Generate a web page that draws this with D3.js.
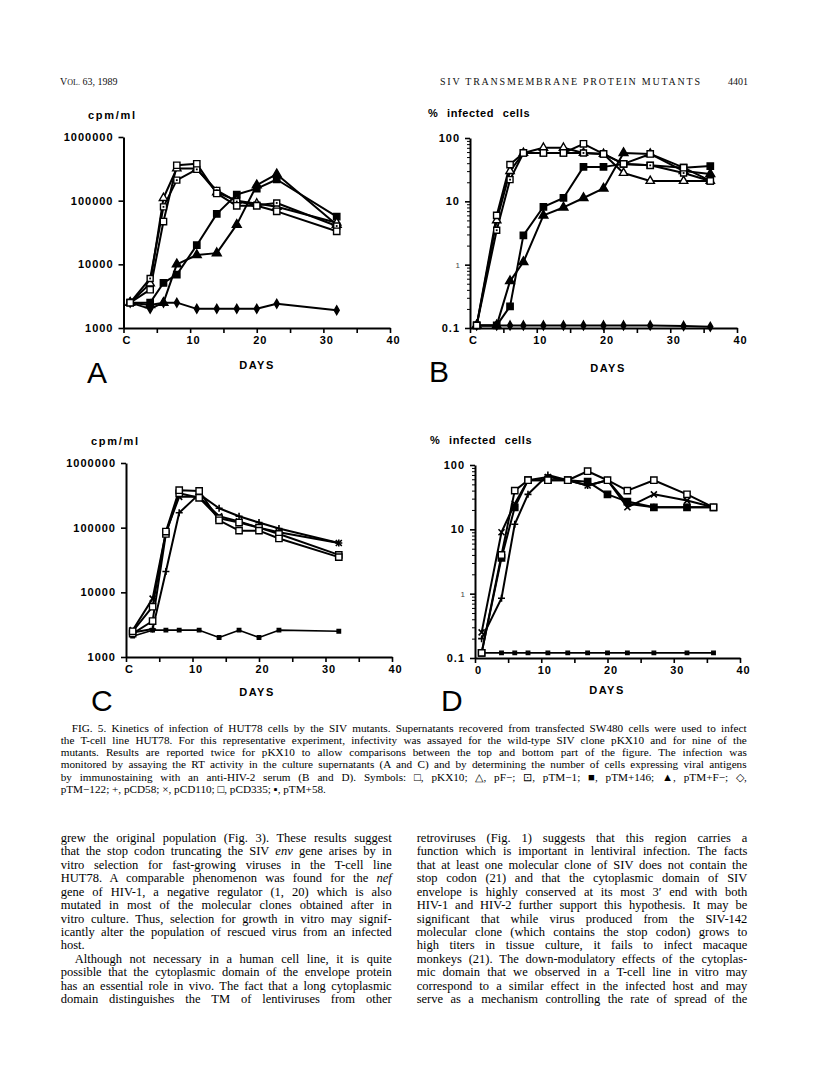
<!DOCTYPE html>
<html><head><meta charset="utf-8">
<script src="https://cdn.jsdelivr.net/npm/d3@7"></script>
<style>body{margin:0;background:#fff}svg{display:block}</style>
</head><body>
<svg id="page" width="816" height="1076"></svg>
<script>
// ---------------- DATA ----------------
const daysA = [1, 4, 6, 8, 11, 14, 17, 20, 23, 32];
const daysB = [1, 4, 6, 8, 11, 14, 17, 20, 23, 27, 32, 36];
const daysC = [1, 4, 6, 8, 11, 14, 17, 20, 23, 32];
const daysD = [1, 4, 6, 8, 11, 14, 17, 20, 23, 27, 32, 36];

// Panel A: RT activity (cpm/ml)
const A_pKX10   = [2500, 4000, 47000, 360000, 380000, 130000, 83000, 83000, 68000, 33000];
const A_pFminus = [2500, 5000, 110000, 320000, 320000, 135000, 100000, 90000, 80000, 45000];
const A_pTM1    = [2500, 6000, 80000, 210000, 310000, 145000, 97000, 85000, 92000, 40000];
const A_pTM146  = [2500, 2500, 5100, 6900, 20000, 62000, 125000, 155000, 215000, 56000];
const A_pTMF    = [2500, 2300, 2500, 10000, 14000, 15000, 42000, 175000, 260000, 42000];
const A_pTM122  = [2500, 2000, 2500, 2500, 2000, 2000, 2000, 2000, 2400, 1900];

// Panel B: % infected cells
const B_pKX10   = [0.11, 6, 38, 58, 58, 58, 81, 56, 39, 56, 34, 21];
const B_pFminus = [0.11, 5, 30, 58, 70, 70, 58, 56, 28, 21, 21, 21];
const B_pTM1    = [0.11, 3.5, 22, 58, 58, 58, 58, 56, 39, 37, 28, 21];
const B_pTM146  = [0.11, 0.11, 0.22, 2.9, 8.2, 11.3, 35, 35, 39, 37, 34, 36];
const B_pTMF    = [0.11, 0.11, 0.55, 1.1, 6, 8, 11.3, 16, 58, 56, 30, 27];
const B_pTM122  = [0.11, 0.11, 0.11, 0.11, 0.11, 0.11, 0.11, 0.11, 0.11, 0.11, 0.108, 0.105];

// Panel C: RT activity (cpm/ml)
const C_pKX10   = [2500, 6000, 87000, 380000, 370000, 130000, 90000, 90000, 68000, 35000];
const C_pCD58   = [2400, 2700, 21000, 170000, 330000, 200000, 150000, 120000, 97000, 58000];
const C_pCD110  = [2600, 8000, 85000, 300000, 300000, 150000, 125000, 100000, 85000, 58000];
const C_pCD335  = [2300, 3600, 80000, 340000, 290000, 140000, 120000, 100000, 80000, 38000];
const C_pTM58   = [2100, 2600, 2600, 2600, 2600, 2000, 2600, 2000, 2600, 2500];

// Panel D: % infected cells
const D_pKX10   = [0.12, 4, 40, 58, 58, 58, 80, 58, 40, 58, 35, 22];
const D_pCD58   = [0.2, 0.85, 12, 35, 70, 58, 48, 58, 25, 22, 22, 22];
const D_pCD110  = [0.25, 9, 25, 58, 65, 58, 48, 58, 22, 35, 28, 22];
const D_pCD335  = [0.12, 3.6, 22, 58, 58, 58, 55, 35, 27, 22, 22, 22];
const D_pTM58   = [0.12, 0.12, 0.12, 0.12, 0.12, 0.12, 0.12, 0.12, 0.12, 0.12, 0.12, 0.12];

// Tick values and labels
const xTicks = [0, 5, 10, 15, 20, 25, 30, 35, 40];
const cpmTicks = [1000, 10000, 100000, 1000000];
const pctTicks = [0.1, 1, 10, 100];
const yLabelCpm = "cpm/ml";
const yLabelPct = "% infected cells";
const xLabel = "DAYS";

// Text
const headerLeft = "63, 1989";
const headerTitle = "SIV TRANSMEMBRANE PROTEIN MUTANTS";
const headerPage = "4401";
const captionLines = [
  "FIG. 5. Kinetics of infection of HUT78 cells by the SIV mutants. Supernatants recovered from transfected SW480 cells were used to infect",
  "the T-cell line HUT78. For this representative experiment, infectivity was assayed for the wild-type SIV clone pKX10 and for nine of the",
  "mutants. Results are reported twice for pKX10 to allow comparisons between the top and bottom part of the figure. The infection was",
  "monitored by assaying the RT activity in the culture supernatants (A and C) and by determining the number of cells expressing viral antigens",
  "by immunostaining with an anti-HIV-2 serum (B and D). Symbols: \u25A1, pKX10; \u25B3, pF\u2212; \u22A1, pTM\u22121; \u25A0, pTM+146; \u25B2, pTM+F\u2212; \u25C7,",
  "pTM\u2212122; +, pCD58; \u00D7, pCD110; \u25A1, pCD335; \u25AA, pTM+58."
];
const leftColumn = [
  "grew the original population (Fig. 3). These results suggest",
  "that the stop codon truncating the SIV _env_ gene arises by in",
  "vitro selection for fast-growing viruses in the T-cell line",
  "HUT78. A comparable phenomenon was found for the _nef_",
  "gene of HIV-1, a negative regulator (1, 20) which is also",
  "mutated in most of the molecular clones obtained after in",
  "vitro culture. Thus, selection for growth in vitro may signif-",
  "icantly alter the population of rescued virus from an infected",
  "host.",
  "Although not necessary in a human cell line, it is quite",
  "possible that the cytoplasmic domain of the envelope protein",
  "has an essential role in vivo. The fact that a long cytoplasmic",
  "domain distinguishes the TM of lentiviruses from other"
];
const rightColumn = [
  "retroviruses (Fig. 1) suggests that this region carries a",
  "function which is important in lentiviral infection. The facts",
  "that at least one molecular clone of SIV does not contain the",
  "stop codon (21) and that the cytoplasmic domain of SIV",
  "envelope is highly conserved at its most 3\u2032 end with both",
  "HIV-1 and HIV-2 further support this hypothesis. It may be",
  "significant that while virus produced from the SIV-142",
  "molecular clone (which contains the stop codon) grows to",
  "high titers in tissue culture, it fails to infect macaque",
  "monkeys (21). The down-modulatory effects of the cytoplas-",
  "mic domain that we observed in a T-cell line in vitro may",
  "correspond to a similar effect in the infected host and may",
  "serve as a mechanism controlling the rate of spread of the"
];

// ---------------- DRAWING ----------------
const svg = d3.select("#page");
svg.append("rect").attr("width", 816).attr("height", 1076).attr("fill", "#fff");
const SANS = "'Liberation Sans', Arial, Helvetica, sans-serif";
const SERIF = "'Liberation Serif', 'Times New Roman', serif";

function drawMarker(g, type, cx, cy) {
  const sym = (t, size, fill) => g.append("path")
    .attr("d", d3.symbol().type(t).size(size)())
    .attr("transform", `translate(${cx},${cy})`)
    .attr("fill", fill).attr("stroke", "#000").attr("stroke-width", 1.4);
  if (type === "sq") sym(d3.symbolSquare, 40, "#fff");
  else if (type === "sqdot") { sym(d3.symbolSquare, 36, "#fff"); g.append("rect").attr("x", cx - 0.9).attr("y", cy - 0.9).attr("width", 1.8).attr("height", 1.8).attr("fill", "#000"); }
  else if (type === "fsq") sym(d3.symbolSquare, 40, "#000");
  else if (type === "ssq") sym(d3.symbolSquare, 12, "#000");
  else if (type === "tri") sym(d3.symbolTriangle, 30, "#fff");
  else if (type === "ftri") sym(d3.symbolTriangle, 34, "#000");
  else if (type === "dia") sym(d3.symbolDiamond, 22, "#000");
  else if (type === "plus") g.append("path").attr("d", `M${cx - 3.5},${cy}H${cx + 3.5}M${cx},${cy - 3.5}V${cy + 3.5}`).attr("stroke", "#000").attr("stroke-width", 1.6).attr("fill", "none");
  else if (type === "times") g.append("path").attr("d", `M${cx - 3},${cy - 3}L${cx + 3},${cy + 3}M${cx - 3},${cy + 3}L${cx + 3},${cy - 3}`).attr("stroke", "#000").attr("stroke-width", 1.6).attr("fill", "none");
}

function panel(cfg) {
  const x = d3.scaleLinear().domain([0, 40]).range([cfg.x0, cfg.x1]);
  const y = d3.scaleLog().domain(cfg.ydom).range([cfg.yb, cfg.yt]);
  const g = svg.append("g");

  const xa = d3.axisBottom(x).tickValues(xTicks).tickSize(5).tickSizeOuter(0).tickPadding(3)
    .tickFormat(d => d % 10 === 0 ? (d === 0 ? cfg.zero : String(d)) : "");
  const gx = g.append("g").attr("transform", `translate(0,${cfg.yb})`).call(xa);
  gx.selectAll(".tick text").attr("dx", 3);

  const ya = d3.axisLeft(y).tickValues(cfg.yticks).tickSize(5).tickSizeOuter(0).tickPadding(5)
    .tickFormat(cfg.yfmt);
  const gy = g.append("g").attr("transform", `translate(${cfg.x0},0)`).call(ya);
  if (cfg.minor) {
    const mv = [];
    cfg.yticks.slice(0, -1).forEach(t => { for (let k = 2; k <= 9; k++) mv.push(t * k); });
    const ym = d3.axisLeft(y).tickValues(mv).tickSize(3).tickSizeOuter(0).tickFormat("");
    const gm = g.append("g").attr("transform", `translate(${cfg.x0},0)`).call(ym);
    gm.select(".domain").remove();
    gm.selectAll(".tick line").attr("stroke", "#000").attr("stroke-width", 1);
  }
  [gx, gy].forEach(a => {
    a.select(".domain").attr("stroke", "#000").attr("stroke-width", 2);
    a.selectAll(".tick line").attr("stroke", "#000").attr("stroke-width", 1.6);
    a.selectAll(".tick text").attr("font-family", SANS).attr("font-weight", "bold")
      .attr("font-size", 11).attr("letter-spacing", 1).attr("fill", "#000");
  });
  if (cfg.smallOne) {
    gy.selectAll(".tick text").filter(d => d === 1)
      .attr("font-size", 8).attr("font-weight", "normal").attr("fill", "#444").attr("letter-spacing", 0);
  }

  // lines
  cfg.series.forEach(s => {
    const line = d3.line().x((d, i) => x(s.days[i])).y(d => y(d));
    g.append("path").datum(s.values).attr("d", line)
      .attr("fill", "none").attr("stroke", "#000").attr("stroke-width", s.w || 2)
      .attr("stroke-linejoin", "round");
  });
  // markers
  cfg.series.forEach(s => {
    s.values.forEach((v, i) => drawMarker(g, s.marker, x(s.days[i]), y(v)));
  });

  // labels
  const pct = cfg.ylabText === yLabelPct;
  g.append("text").attr("x", cfg.ylab[0]).attr("y", cfg.ylab[1]).text(cfg.ylabText)
    .attr("font-family", SANS).attr("font-weight", "bold").attr("font-size", 11)
    .attr("letter-spacing", pct ? 0.6 : 1.7).attr("word-spacing", pct ? 5 : 0).attr("fill", "#000");
  g.append("text").attr("x", cfg.xlab[0]).attr("y", cfg.xlab[1]).text(xLabel)
    .attr("text-anchor", "middle").attr("font-family", SANS).attr("font-weight", "bold")
    .attr("font-size", 11).attr("letter-spacing", 1.5).attr("fill", "#000");
  g.append("text").attr("x", cfg.letter[0]).attr("y", cfg.letter[1]).text(cfg.letterText)
    .attr("font-family", SANS).attr("font-size", 30).attr("fill", "#000");
}

const fmtInt = d3.format("d");
const fmtPct = d => d < 1 ? "0.1" : String(d);

panel({
  x0: 123.5, x1: 390, yt: 137, yb: 328, ydom: [1000, 1000000], yticks: cpmTicks, yfmt: fmtInt, zero: "C",
  ylab: [88, 119], ylabText: yLabelCpm, xlab: [257, 369], letter: [87, 383], letterText: "A",
  series: [
    { days: daysA, values: A_pTM122, marker: "dia" },
    { days: daysA, values: A_pTMF, marker: "ftri" },
    { days: daysA, values: A_pTM146, marker: "fsq" },
    { days: daysA, values: A_pFminus, marker: "tri" },
    { days: daysA, values: A_pTM1, marker: "sqdot" },
    { days: daysA, values: A_pKX10, marker: "sq" }
  ]
});
panel({
  x0: 470, x1: 737, yt: 138, yb: 328, ydom: [0.1, 100], yticks: pctTicks, yfmt: fmtPct, zero: "C",
  minor: true, smallOne: true,
  ylab: [428, 117], ylabText: yLabelPct, xlab: [608, 372], letter: [429, 382], letterText: "B",
  series: [
    { days: daysB, values: B_pTM122, marker: "dia" },
    { days: daysB, values: B_pTMF, marker: "ftri" },
    { days: daysB, values: B_pTM146, marker: "fsq" },
    { days: daysB, values: B_pFminus, marker: "tri" },
    { days: daysB, values: B_pTM1, marker: "sqdot" },
    { days: daysB, values: B_pKX10, marker: "sq" }
  ]
});
panel({
  x0: 126, x1: 392, yt: 463, yb: 657, ydom: [1000, 1000000], yticks: cpmTicks, yfmt: fmtInt, zero: "C",
  ylab: [91, 445], ylabText: yLabelCpm, xlab: [257, 696], letter: [91, 711], letterText: "C",
  series: [
    { days: daysC, values: C_pTM58, marker: "ssq", w: 1.6 },
    { days: daysC, values: C_pCD58, marker: "plus" },
    { days: daysC, values: C_pCD110, marker: "times" },
    { days: daysC, values: C_pCD335, marker: "sq" },
    { days: daysC, values: C_pKX10, marker: "sq" }
  ]
});
panel({
  x0: 475, x1: 740, yt: 465, yb: 658, ydom: [0.1, 100], yticks: pctTicks, yfmt: fmtPct, zero: "0",
  minor: true, smallOne: true,
  ylab: [430, 444], ylabText: yLabelPct, xlab: [607, 694], letter: [441, 711], letterText: "D",
  series: [
    { days: daysD, values: D_pTM58, marker: "ssq", w: 1.6 },
    { days: daysD, values: D_pCD58, marker: "plus" },
    { days: daysD, values: D_pCD110, marker: "times" },
    { days: daysD, values: D_pCD335, marker: "fsq" },
    { days: daysD, values: D_pKX10, marker: "sq" }
  ]
});

// ---------------- TEXT ----------------
function textLine(raw, x, y, width, justify, size) {
  const t = svg.append("text").attr("x", x).attr("y", y)
    .attr("font-family", SERIF).attr("font-size", size).attr("fill", "#000");
  raw.split("_").forEach((part, i) => {
    if (!part) return;
    t.append("tspan").text(part).attr("font-style", i % 2 ? "italic" : null);
  });
  if (justify) {
    const len = t.node().getComputedTextLength();
    const spaces = (raw.match(/ /g) || []).length;
    const ws = spaces ? (width - len) / spaces : 0;
    if (spaces && ws > -1.2) t.attr("word-spacing", ws.toFixed(2));
    else t.attr("textLength", width).attr("lengthAdjust", "spacingAndGlyphs");
  }
  return t;
}

// header
const hdr = svg.append("text").attr("x", 60).attr("y", 85).attr("font-family", SERIF)
  .attr("font-size", 10).attr("fill", "#111");
hdr.append("tspan").text("V");
hdr.append("tspan").attr("font-size", 8).text("OL.");
hdr.append("tspan").text(" " + headerLeft);
svg.append("text").attr("x", 440).attr("y", 85).attr("font-family", SERIF).attr("font-size", 10)
  .attr("fill", "#111").attr("textLength", 260).attr("lengthAdjust", "spacing").text(headerTitle);
svg.append("text").attr("x", 748).attr("y", 85).attr("text-anchor", "end").attr("font-family", SERIF)
  .attr("font-size", 10).attr("fill", "#111").text(headerPage);

// caption
captionLines.forEach((s, i) => {
  const x = i === 0 ? 71.7 : 60.7;
  textLine(s, x, 731.5 + i * 12.27, 746.7 - x, i < captionLines.length - 1, 11.2);
});

// body columns
leftColumn.forEach((s, i) => {
  const indent = i === 9 ? 14 : 0;
  textLine(s, 60.7 + indent, 841.7 + i * 13.47, 331 - indent, i !== 8, 12.5);
});
rightColumn.forEach((s, i) => {
  textLine(s, 416.7, 841.7 + i * 13.47, 330.6, true, 12.5);
});
</script>
</body></html>
